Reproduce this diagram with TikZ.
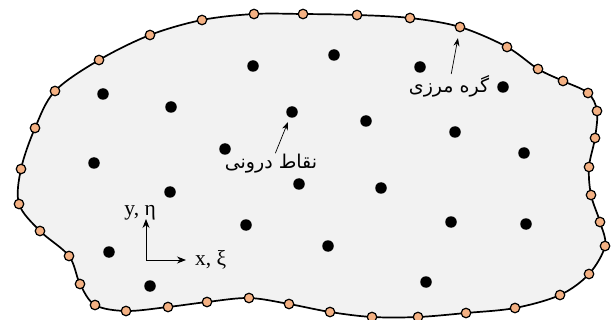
\documentclass[tikz,border=0pt]{standalone}
\usepackage{fontspec}
\setmainfont{Liberation Serif}
\newfontfamily\farsi[Script=Arabic]{DejaVu Sans}
\TeXXeTstate=1
\usepackage{tikz}
\usetikzlibrary{arrows.meta, positioning}
\definecolor{regiongray}{RGB}{242, 242, 242}
\definecolor{nodeorange}{RGB}{244, 177, 131}
\tikzset{
  rim/.style={draw=black, line width=1.7pt, fill=regiongray},
  bnode/.style={circle, draw=black, line width=1.2pt, fill=nodeorange, inner sep=0pt, minimum size=9.5pt},
  inode/.style={circle, fill=black, inner sep=0pt, minimum size=11.5pt},
  ptrarrow/.style={-{Stealth[length=8pt, width=6pt]}, line width=0.7pt, black},
  axisarrow/.style={-{Stealth[length=9pt, width=7pt]}, line width=0.9pt, black},
  lbl/.style={font=\fontsize{21.5}{24}\selectfont, inner sep=1pt},
  farsilbl/.style={font=\farsi\fontsize{19}{22}\selectfont, inner sep=1pt}
}

\begin{document}
\begin{tikzpicture}[x=1pt, y=-1pt]
    \useasboundingbox (0,0) rectangle (612,320);

    % domain boundary
    \draw[rim] plot[smooth cycle, tension=0.55] coordinates {
      (21,169) (35,128) (55,91) (99,60) (150,35) (202,20) (254,14) (303,14)
      (357,15) (410,18) (460,27) (507,47) (538,69) (563,81) (588,93) (597,111)
      (595,138) (589,167) (591,195) (600,222) (605,246) (589,274) (560,295) (515,308)
      (466,313) (418,317) (372,317) (330,312) (289,304) (249,298) (207,302) (168,307)
      (126,311) (95,305) (80,284) (69,256) (40,231) (19,204)};

    % boundary nodes
    \foreach \x/\y [count=\i] in {21/169, 35/128, 55/91, 99/60, 150/35, 202/20, 254/14, 303/14,
      357/15, 410/18, 460/27, 507/47, 538/69, 563/81, 588/93, 597/111,
      595/138, 589/167, 591/195, 600/222, 605/246, 589/274, 560/295, 515/308,
      466/313, 418/317, 372/317, 330/312, 289/304, 249/298, 207/302, 168/307,
      126/311, 95/305, 80/284, 69/256, 40/231, 19/204}
      \node[bnode] (b\i) at (\x,\y) {};

    % interior points
    \foreach \x/\y [count=\i] in {253/66, 334/55, 420/67, 503/87, 103/94, 171/107, 292/112,
      366/121, 455/132, 524/153, 225/149, 94/163, 299/184, 381/188, 170/192,
      246/225, 451/222, 526/224, 109/252, 328/246, 150/286, 426/282}
      \node[inode] (i\i) at (\x,\y) {};

    % labels
    \node[farsilbl] (inlbl) at (271,164) {\beginR نقاط درونی\endR};
    \node[farsilbl] (bdlbl) at (449,86) {\beginR گره مرزی\endR};
    \draw[ptrarrow, shorten >=5pt] (inlbl) -- (i7);
    \draw[ptrarrow, shorten >=6pt] (bdlbl) -- (b11);

    % axes
    \coordinate (o) at (146,260);
    \coordinate (xe) at (186,260);
    \coordinate (ye) at (146,219);
    \draw[axisarrow] (o) -- (xe);
    \draw[axisarrow] (o) -- (ye);
    \node[lbl, right=8pt of xe, anchor=west] (xlbl) {x, ξ};
    \node[lbl, above left=-2pt and -11pt of ye] (ylbl) {y, η};
\end{tikzpicture}
\end{document}
